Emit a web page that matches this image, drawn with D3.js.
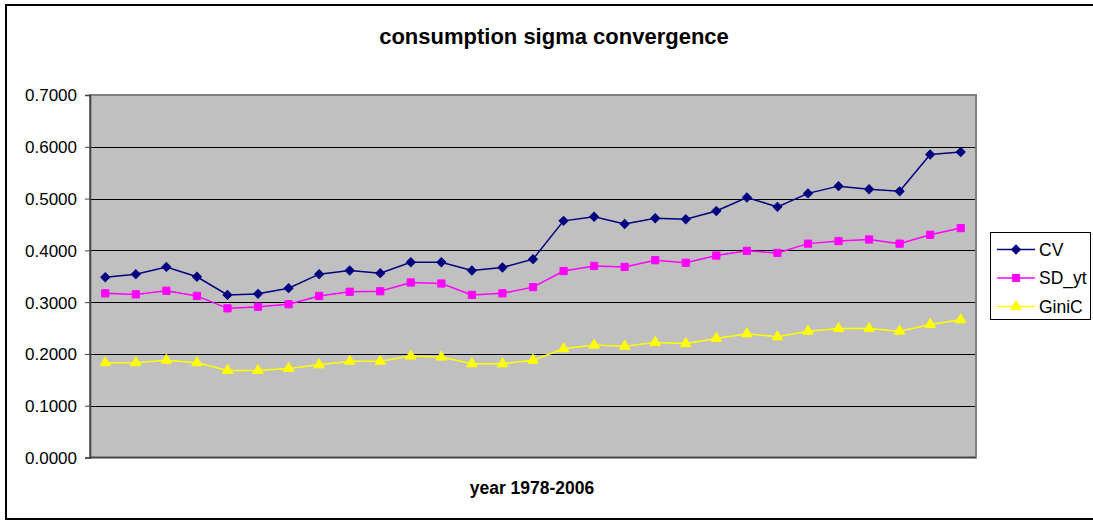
<!DOCTYPE html>
<html><head><meta charset="utf-8">
<script src="https://cdn.jsdelivr.net/npm/d3@7"></script>
<style>body{margin:0;background:#fff}svg{display:block}text{font-family:"Liberation Sans",Arial,sans-serif}</style>
</head><body><svg id="c" width="1093" height="520"></svg>
<script>
const years = d3.range(1978, 2007).map(String);
const cv = [0.348,0.354,0.368,0.349,0.314,0.316,0.327,0.354,0.361,0.356,0.377,0.377,0.361,0.367,0.383,0.457,0.465,0.451,0.462,0.460,0.476,0.502,0.484,0.510,0.524,0.518,0.514,0.585,0.590];
const sdyt = [0.317,0.315,0.322,0.312,0.288,0.291,0.296,0.312,0.320,0.321,0.338,0.336,0.314,0.317,0.329,0.360,0.370,0.368,0.381,0.376,0.390,0.399,0.395,0.413,0.418,0.421,0.413,0.430,0.443];
const giniC = [0.183,0.183,0.188,0.183,0.168,0.168,0.172,0.179,0.186,0.186,0.196,0.194,0.181,0.181,0.188,0.210,0.217,0.215,0.222,0.220,0.230,0.239,0.233,0.244,0.249,0.249,0.244,0.257,0.266];
const yTicks = [0,0.1,0.2,0.3,0.4,0.5,0.6,0.7];
const seriesNames = ["CV","SD_yt","GiniC"];
const seriesColors = ["#000080","#FF00FF","#FFFF00"];
const seriesShapes = [d3.symbolSquare, d3.symbolSquare, d3.symbolTriangle];
const seriesRot = [45, 0, 0];
const seriesSizes = [40, 52, 48];
const seriesData = [cv, sdyt, giniC];

const svg = d3.select("#c");
const L = 90, R = 976, T = 95, B = 457.5;
const x = d3.scaleBand().domain(years).range([L, R]);
const y = d3.scaleLinear().domain([0, 0.7]).range([B, T]);

// outer border
svg.append("rect").attr("x",6).attr("y",5).attr("width",1100).attr("height",514)
  .attr("fill","#fff").attr("stroke","#000").attr("stroke-width",2);

// title
svg.append("text").attr("x",554).attr("y",44).attr("text-anchor","middle")
  .attr("font-size",22).attr("font-weight","bold").text("consumption sigma convergence");

// plot area
svg.append("rect").attr("x",L).attr("y",T).attr("width",R-L).attr("height",B-T)
  .attr("fill","#C0C0C0");

// gridlines
svg.append("g").selectAll("line").data(yTicks.filter(d=>d>0 && d<0.7)).join("line")
  .attr("x1",L).attr("x2",R).attr("y1",d=>Math.round(y(d))+0.5).attr("y2",d=>Math.round(y(d))+0.5)
  .attr("stroke","#000").attr("stroke-width",1);

// plot border
svg.append("rect").attr("x",L).attr("y",T).attr("width",R-L).attr("height",B-T)
  .attr("fill","none").attr("stroke","#808080").attr("stroke-width",2);

// y axis
const yAxis = d3.axisLeft(y).tickValues(yTicks).tickFormat(d3.format(".4f")).tickSize(5).tickPadding(8);
const ga = svg.append("g").attr("transform",`translate(${L},0)`).call(yAxis);
ga.select(".domain").attr("stroke","#404040").attr("stroke-width",1.5);
ga.selectAll(".tick line").attr("stroke","#404040");
ga.selectAll(".tick text").attr("font-size",17).attr("fill","#000")
  .attr("font-family","'Liberation Sans',Arial,sans-serif").attr("dy","0.35em");

// x axis (no labels)
svg.append("line").attr("x1",L).attr("x2",R).attr("y1",B).attr("y2",B).attr("stroke","#404040").attr("stroke-width",1.5);

// x title
svg.append("text").attr("x",532).attr("y",494).attr("text-anchor","middle")
  .attr("font-size",17.5).attr("font-weight","bold").text("year 1978-2006");

// series
const cx = i => x(years[i]) + x.bandwidth()/2;
seriesData.forEach((vals, si) => {
  const line = d3.line().x((d,i)=>cx(i)).y(d=>y(d));
  svg.append("path").datum(vals).attr("d",line).attr("fill","none")
    .attr("stroke",seriesColors[si]).attr("stroke-width",1.5);
  const sym = d3.symbol().type(seriesShapes[si]).size(seriesSizes[si]);
  svg.append("g").selectAll("path").data(vals).join("path")
    .attr("d",sym).attr("transform",(d,i)=>`translate(${cx(i)},${y(d)}) rotate(${seriesRot[si]})`)
    .attr("fill",seriesColors[si]).attr("stroke",seriesColors[si]).attr("stroke-width",1);
});

// legend
const lg = svg.append("g");
lg.append("rect").attr("x",990.5).attr("y",232.5).attr("width",100).attr("height",87)
  .attr("fill","#fff").attr("stroke","#000").attr("stroke-width",1);
const ly = [249.5, 278, 306.5];
seriesNames.forEach((n, si) => {
  lg.append("line").attr("x1",997).attr("x2",1035).attr("y1",ly[si]).attr("y2",ly[si])
    .attr("stroke",seriesColors[si]).attr("stroke-width",1.5);
  lg.append("path").attr("d",d3.symbol().type(seriesShapes[si]).size(seriesSizes[si])())
    .attr("transform",`translate(1016,${ly[si]}) rotate(${seriesRot[si]})`).attr("fill",seriesColors[si]).attr("stroke",seriesColors[si]);
  lg.append("text").attr("x",1039).attr("y",ly[si]+6).attr("font-size",17.5).text(n);
});
</script></body></html>
